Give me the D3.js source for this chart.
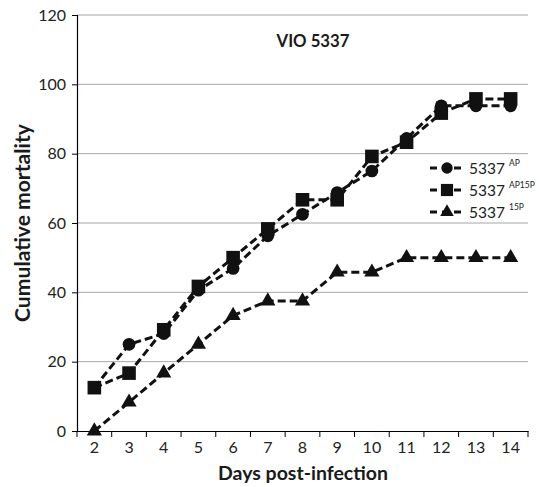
<!DOCTYPE html>
<html><head><meta charset="utf-8">
<script src="https://cdn.jsdelivr.net/npm/d3@7/dist/d3.min.js"></script>
<style>body{margin:0;background:#fff}svg{display:block}text{font-family:Lato,"Open Sans",sans-serif}</style>
</head><body>
<script>
const days = ["2","3","4","5","6","7","8","9","10","11","12","13","14"];
const seriesNames = ["5337", "5337", "5337"];
const seriesSup = ["AP", "AP15P", "15P"];
const valuesAP = [12.5, 25, 28.1, 40.6, 46.9, 56.3, 62.5, 68.8, 75, 84.4, 93.8, 93.8, 93.8];
const valuesAP15P = [12.5, 16.7, 29.2, 41.7, 50, 58.3, 66.7, 66.7, 79.2, 83.3, 91.7, 95.8, 95.8];
const values15P = [0, 8.3, 16.7, 25, 33.3, 37.5, 37.5, 45.8, 45.8, 50, 50, 50, 50];
const yTicks = [0, 20, 40, 60, 80, 100, 120];
const title = "VIO 5337";
const xTitle = "Days post-infection";
const yTitle = "Cumulative mortality";

const W = 539, H = 487;
const m = {left: 77, right: 11, top: 15, bottom: 56};
const svg = d3.select("body").append("svg").attr("width", W).attr("height", H);
const x = d3.scaleBand().domain(days).range([m.left, W - m.right]);
const y = d3.scaleLinear().domain([0, 120]).range([H - m.bottom, m.top]);

function fitText(sel, target) {
  const w = sel.node().getComputedTextLength();
  const fs = parseFloat(sel.attr("font-size"));
  sel.attr("font-size", (fs * target / w).toFixed(2));
}

// gridlines
svg.append("g").selectAll("line").data(yTicks.filter(d => d > 0)).join("line")
  .attr("x1", m.left).attr("x2", W - m.right)
  .attr("y1", d => y(d)).attr("y2", d => y(d))
  .attr("stroke", "#a6a6a6").attr("stroke-width", 1);

// y axis
const ya = svg.append("g").attr("transform", `translate(${m.left},0)`)
  .call(d3.axisLeft(y).tickValues(yTicks).tickSize(5).tickPadding(6));
ya.select(".domain").attr("stroke", "#000").attr("stroke-width", 1.2);
ya.selectAll(".tick line").attr("stroke", "#000");
ya.selectAll("text").attr("font-size", 16).attr("fill", "#222");

// x axis
const xa = svg.append("g").attr("transform", `translate(0,${y(0)})`)
  .call(d3.axisBottom(x).tickSize(0).tickPadding(11).tickSizeOuter(0));
xa.select(".domain").attr("stroke", "#000").attr("stroke-width", 1.2);
xa.selectAll("text").attr("font-size", 16).attr("fill", "#222");
// boundary ticks
const bounds = days.map(d => x(d)).concat([x(days[days.length-1]) + x.bandwidth()]);
svg.append("g").selectAll("line").data(bounds).join("line")
  .attr("x1", d => d).attr("x2", d => d)
  .attr("y1", y(0)).attr("y2", y(0) + 6)
  .attr("stroke", "#000").attr("stroke-width", 1);

// titles
const t1 = svg.append("text").attr("x", 313).attr("y", 47).attr("text-anchor", "middle")
  .attr("font-size", 17).attr("font-weight", "bold").attr("fill", "#1a1a1a").text(title);
fitText(t1, 73);
const t2 = svg.append("text").attr("x", 303).attr("y", 480).attr("text-anchor", "middle")
  .attr("font-size", 20).attr("font-weight", "bold").attr("fill", "#1a1a1a").text(xTitle);
fitText(t2, 170);
const t3 = svg.append("text").attr("transform", `translate(30,${(y(0) + y(120)) / 2}) rotate(-90)`)
  .attr("text-anchor", "middle").attr("font-size", 20).attr("font-weight", "bold")
  .attr("fill", "#1a1a1a").text(yTitle);
fitText(t3, 198);

const cx = d => x(d) + x.bandwidth() / 2;
const line = d3.line().x((d, i) => cx(days[i])).y(d => y(d));

const allSeries = [valuesAP, valuesAP15P, values15P];
const symOf = [d3.symbolCircle, d3.symbolSquare, d3.symbolTriangle];
const sizeOf = [127, 185, 100];
[1, 2, 0].forEach(s => {
  const vals = allSeries[s];
  svg.append("path").datum(vals).attr("d", line).attr("fill", "none")
    .attr("stroke", "#111").attr("stroke-width", 3).attr("stroke-dasharray", "8,4");
  svg.append("g").selectAll("path").data(vals).join("path")
    .attr("transform", (d, i) => `translate(${cx(days[i])},${y(d)})`)
    .attr("d", d3.symbol().type(symOf[s]).size(sizeOf[s])).attr("fill", "#111");
});

// legend
const lg = svg.append("g");
[0, 1, 2].forEach(s => {
  const ly = 168 + s * 22;
  lg.append("line").attr("x1", 430).attr("x2", 463).attr("y1", ly).attr("y2", ly)
    .attr("stroke", "#111").attr("stroke-width", 3).attr("stroke-dasharray", "7,5");
  lg.append("path").attr("transform", `translate(447,${ly})`)
    .attr("d", d3.symbol().type(symOf[s]).size(sizeOf[s] * 0.8)).attr("fill", "#111");
  const t = lg.append("text").attr("x", 469).attr("y", ly + 6).attr("font-size", 15.5).attr("fill", "#222");
  t.append("tspan").text(seriesNames[s]);
  t.append("tspan").attr("dx", 4).attr("dy", -8).attr("font-size", 8.5).text(seriesSup[s]);
});
</script>
</body></html>
